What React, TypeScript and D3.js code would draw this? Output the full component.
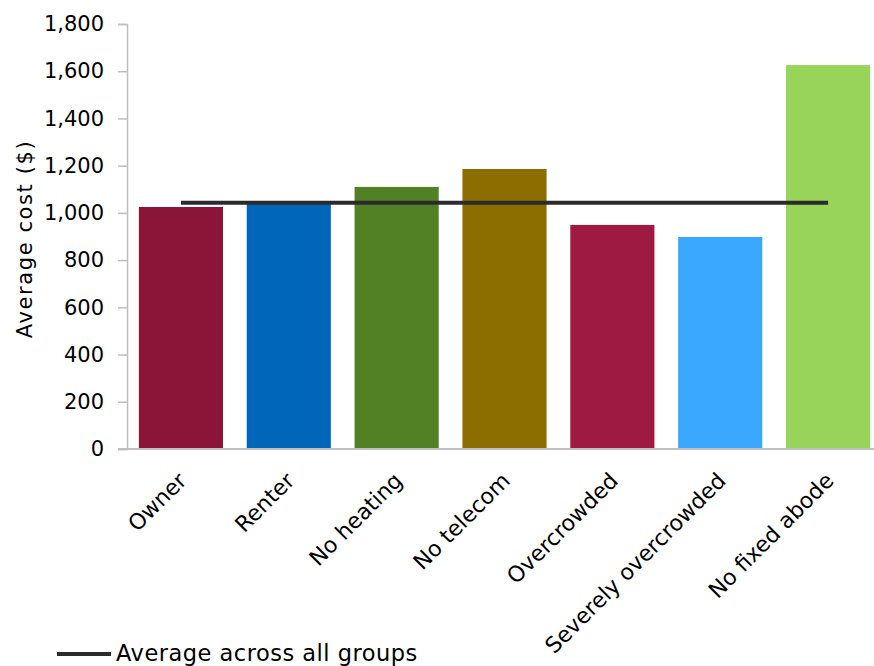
import React, { useEffect, useRef } from 'react';
import * as d3 from 'd3';

// categories and values
const categories = ['Owner', 'Renter', 'No heating', 'No telecom', 'Overcrowded', 'Severely overcrowded', 'No fixed abode'];
const costs = [1025, 1040, 1110, 1186, 949, 898, 1626];
const averageCost = [1043, 1043, 1043, 1043, 1043, 1043, 1043];
const barColors = ['#8a1538', '#0066b9', '#528024', '#8c6d00', '#9e1a42', '#3ba8ff', '#98d45a'];
const yTicks = [0, 200, 400, 600, 800, 1000, 1200, 1400, 1600, 1800];

const FONT = '"DejaVu Sans", sans-serif';

function App() {
  const ref = useRef<SVGSVGElement | null>(null);

  useEffect(() => {
    const svg = d3.select(ref.current);
    svg.selectAll('*').remove();

    const width = 874, height = 666;
    const left = 127, right = 882, top = 24, bottom = 449;

    const x = d3.scaleBand<string>().domain(categories).range([left, right]).paddingInner(0.22).paddingOuter(0.11);
    const y = d3.scaleLinear().domain([0, 1800]).range([bottom, top]);

    svg.attr('width', width).attr('height', height);

    // y axis
    const yAxis = svg.append('g')
      .attr('transform', `translate(${left},0)`)
      .call(d3.axisLeft(y).tickValues(yTicks).tickSize(9).tickPadding(14).tickFormat(d3.format(',')));
    yAxis.select('.domain').attr('stroke', '#bfbfbf').attr('stroke-width', 1.5);
    yAxis.selectAll('.tick line').attr('stroke', '#bfbfbf').attr('stroke-width', 1.5);
    yAxis.selectAll('.tick text')
      .attr('font-family', FONT).attr('font-size', 21).attr('fill', '#000');

    // bars
    svg.append('g').selectAll('rect')
      .data(categories)
      .join('rect')
      .attr('x', d => x(d)!)
      .attr('y', (d, i) => y(costs[i]))
      .attr('width', x.bandwidth())
      .attr('height', (d, i) => bottom - y(costs[i]))
      .attr('fill', (d, i) => barColors[i]);

    // baseline
    svg.append('line')
      .attr('x1', 118).attr('x2', width)
      .attr('y1', bottom).attr('y2', bottom)
      .attr('stroke', '#bfbfbf').attr('stroke-width', 2);

    // average line
    const line = d3.line<number>()
      .x((d, i) => x(categories[i])! + x.bandwidth() / 2)
      .y(d => y(d));
    svg.append('path')
      .attr('d', line(averageCost))
      .attr('fill', 'none')
      .attr('stroke', '#2b2b2b')
      .attr('stroke-width', 4);

    // x labels
    svg.append('g').selectAll('text')
      .data(categories)
      .join('text')
      .attr('transform', d => `translate(${x(d)! + x.bandwidth() / 2 + 7},${482}) rotate(-45)`)
      .attr('text-anchor', 'end')
      .attr('font-family', FONT)
      .attr('font-size', 22)
      .attr('fill', '#000')
      .text(d => d);

    // y title
    svg.append('text')
      .attr('transform', `translate(32,239) rotate(-90)`)
      .attr('text-anchor', 'middle')
      .attr('font-family', FONT)
      .attr('font-size', 21)
      .attr('letter-spacing', 1.6)
      .attr('fill', '#000')
      .text('Average cost ($)');

    // legend
    svg.append('line')
      .attr('x1', 57).attr('x2', 111).attr('y1', 654).attr('y2', 654)
      .attr('stroke', '#2b2b2b').attr('stroke-width', 4);
    svg.append('text')
      .attr('x', 116).attr('y', 661)
      .attr('font-family', FONT)
      .attr('font-size', 22.5)
      .attr('letter-spacing', 0.5)
      .attr('fill', '#000')
      .text('Average across all groups');
  }, []);

  return (
    <div style={{ position: 'absolute', left: 0, top: 0 }}>
      <svg ref={ref}></svg>
    </div>
  );
}

export default App;
